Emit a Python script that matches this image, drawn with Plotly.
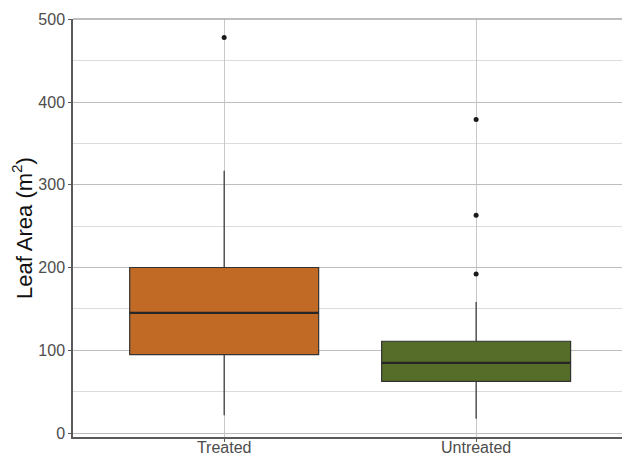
import plotly.graph_objects as go

# Leaf area summary statistics per treatment group (m^2)
groups = ["Treated", "Untreated"]
q1 = [94.8, 62.5]
median = [145.1, 84.7]
q3 = [200.0, 110.9]
lower_whisker = [21.4, 17.4]
upper_whisker = [317.0, 158.4]
outliers = [[478.0], [379.0, 263.3, 192.3]]
fill_colors = ["#C06A26", "#566D29"]

box_width = 0.75
positions = [1, 2]

fig = go.Figure()

for i, name in enumerate(groups):
    pos = positions[i]
    fig.add_trace(go.Box(
        x=[pos], q1=[q1[i]], median=[median[i]], q3=[q3[i]],
        lowerfence=[lower_whisker[i]], upperfence=[upper_whisker[i]],
        width=box_width, fillcolor=fill_colors[i],
        line=dict(color="#333333", width=1.2),
        boxpoints=False, whiskerwidth=0, showlegend=False, hoverinfo="skip",
    ))
    # thicker median bar, ggplot style
    fig.add_trace(go.Scatter(
        x=[pos - box_width / 2, pos + box_width / 2], y=[median[i], median[i]],
        mode="lines", line=dict(color="#262626", width=2.2),
        showlegend=False, hoverinfo="skip",
    ))
    fig.add_trace(go.Scatter(
        x=[pos] * len(outliers[i]), y=outliers[i], mode="markers",
        marker=dict(color="#1A1A1A", size=5),
        showlegend=False, hoverinfo="skip",
    ))

grid_major = "#BDBDBD"
grid_minor = "#DCDCDC"

fig.update_layout(
    width=622, height=456,
    margin=dict(l=73, r=0, t=19, b=19),
    plot_bgcolor="white", paper_bgcolor="white",
    font=dict(family="Liberation Sans, Arial, sans-serif", color="#4D4D4D", size=16),
    xaxis=dict(
        range=[0.4, 2.579], tickvals=positions, ticktext=groups, automargin=False,
        showgrid=True, gridcolor="#C8C8C8", gridwidth=1,
        showline=True, linecolor="#5A5A5A", linewidth=1.5,
        ticks="outside", ticklen=3, tickcolor="#5A5A5A", zeroline=False,
        tickfont=dict(size=16, color="#4D4D4D"), ticklabelstandoff=-8,
    ),
    yaxis=dict(
        range=[-4.8, 500.3], tickvals=[0, 100, 200, 300, 400, 500], automargin=False,
        showgrid=True, gridcolor=grid_major, gridwidth=1,
        minor=dict(tickvals=[50, 150, 250, 350, 450], showgrid=True,
                   gridcolor=grid_minor, gridwidth=1),
        showline=True, linecolor="#5A5A5A", linewidth=1.5,
        ticks="outside", ticklen=3, tickcolor="#5A5A5A", zeroline=False,
        tickfont=dict(size=16, color="#4D4D4D"),
        title=dict(text="Leaf Area (m<sup>2</sup>)", font=dict(size=22, color="#111111"),
                   standoff=0),
    ),
    shapes=[dict(type="line", xref="paper", yref="paper", x0=0, x1=1, y0=1, y1=1,
                 line=dict(color="#A8A8A8", width=1.5))],
)

fig.write_html("out.html")
